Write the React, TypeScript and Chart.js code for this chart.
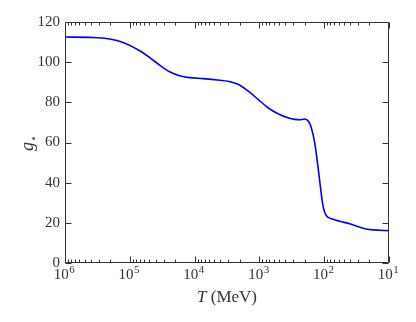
import React, { useEffect, useRef } from "react";
import { Chart, registerables } from "chart.js";

Chart.register(...registerables);

const temperatures = [1e6, 3.7e5, 2.04e5, 1.27e5, 7.03e4, 4.93e4, 3.46e4, 2.43e4, 1.7e4, 1.19e4, 7.41e3, 4.1e3, 3.05e3, 2.14e3, 1.5e3, 1.05e3, 736, 516, 362, 285, 240, 200, 172, 158, 140, 125, 113, 104, 92.5, 73.1, 57.6, 40.4, 25.2, 17.7, 10];
const gStar = [112.5, 112.3, 111.5, 109.8, 105.7, 102.3, 98.5, 95.2, 93.2, 92.3, 91.8, 91.0, 90.5, 89.0, 85.7, 81.5, 77.3, 74.3, 72.3, 71.5, 71.3, 71.7, 70.2, 67.3, 59.8, 48.2, 36.5, 28.2, 23.5, 21.8, 20.8, 19.5, 17.3, 16.5, 16.1];
const xTickValues = [1e6, 1e5, 1e4, 1e3, 1e2, 1e1];
const xTickBase = "10";
const xTickExponents = ["6", "5", "4", "3", "2", "1"];
const yTickValues = [0, 20, 40, 60, 80, 100, 120];
const xTitleItalic = "T";
const xTitleRest = " (MeV)";
const yTitleMain = "g";
const yTitleSub = "⋆";

const FONT = '"Liberation Serif", "DejaVu Serif", serif';
const AXIS = "#333333";

const framePlugin = {
  id: "frame",
  afterDraw(chart: any) {
    const { ctx, chartArea, scales } = chart;
    const { left, right, top, bottom } = chartArea;
    const xs = scales.x;
    const ys = scales.y;
    const L = Math.round(left) + 0.5;
    const R = Math.round(right) - 0.5;
    const T = Math.round(top) + 0.5;
    const B = Math.round(bottom) - 0.5;
    ctx.save();
    ctx.strokeStyle = AXIS;
    ctx.lineWidth = 1;
    ctx.beginPath();
    ctx.rect(L, T, R - L, B - T);
    for (let k = 1; k <= 6; k++) {
      const base = Math.pow(10, k);
      const px = Math.round(xs.getPixelForValue(base)) + 0.5;
      ctx.moveTo(px, B); ctx.lineTo(px, B - 6);
      ctx.moveTo(px, T); ctx.lineTo(px, T + 6);
      if (k < 6) {
        for (let m = 2; m <= 9; m++) {
          const mp = Math.round(xs.getPixelForValue(m * base)) + 0.5;
          ctx.moveTo(mp, B); ctx.lineTo(mp, B - 3);
          ctx.moveTo(mp, T); ctx.lineTo(mp, T + 3);
        }
      }
    }
    for (const v of yTickValues) {
      const py = Math.round(ys.getPixelForValue(v)) + 0.5;
      ctx.moveTo(L, py); ctx.lineTo(L + 6, py);
      ctx.moveTo(R, py); ctx.lineTo(R - 6, py);
    }
    ctx.stroke();

    ctx.fillStyle = AXIS;
    ctx.textAlign = "left";
    ctx.textBaseline = "alphabetic";

    // x tick labels: 10 with raised exponent
    const baseFont = `15px ${FONT}`;
    const expFont = `11px ${FONT}`;
    xTickValues.forEach((v, i) => {
      const px = xs.getPixelForValue(v);
      ctx.font = baseFont;
      const bw = ctx.measureText(xTickBase).width;
      ctx.font = expFont;
      const ew = ctx.measureText(xTickExponents[i]).width;
      const sx = px - (bw + ew) / 2 - 1;
      ctx.font = baseFont;
      ctx.fillText(xTickBase, sx, 279);
      ctx.font = expFont;
      ctx.fillText(xTickExponents[i], sx + bw + 0.5, 273);
    });

    // x title
    ctx.textBaseline = "middle";
    const italicFont = `italic 17px ${FONT}`;
    const normalFont = `17px ${FONT}`;
    ctx.font = italicFont;
    const w1 = ctx.measureText(xTitleItalic).width;
    ctx.font = normalFont;
    const w2 = ctx.measureText(xTitleRest).width;
    const cx = (left + right) / 2;
    const startX = cx - (w1 + w2) / 2;
    ctx.font = italicFont;
    ctx.fillText(xTitleItalic, startX, 298);
    ctx.font = normalFont;
    ctx.fillText(xTitleRest, startX + w1, 298);

    // y title (rotated)
    ctx.save();
    ctx.translate(30, 143);
    ctx.rotate(-Math.PI / 2);
    ctx.textBaseline = "alphabetic";
    ctx.font = `italic 18px ${FONT}`;
    const gw = ctx.measureText(yTitleMain).width;
    ctx.font = `11px "DejaVu Sans", sans-serif`;
    const sw = ctx.measureText(yTitleSub).width;
    const sx = -(gw + sw) / 2;
    ctx.font = `italic 18px ${FONT}`;
    ctx.fillText(yTitleMain, sx, 3);
    ctx.font = `11px "DejaVu Sans", sans-serif`;
    ctx.fillText(yTitleSub, sx + gw, 7);
    ctx.restore();

    ctx.restore();
  },
};

export default function App() {
  const canvasRef = useRef<HTMLCanvasElement | null>(null);

  useEffect(() => {
    const canvas = canvasRef.current;
    if (!canvas) return;
    const points = temperatures.map((t, i) => ({ x: t, y: gStar[i] }));
    const chart = new Chart(canvas, {
      type: "scatter",
      data: {
        datasets: [
          {
            data: points,
            showLine: true,
            borderColor: "#0000ff",
            borderWidth: 1.6,
            pointRadius: 0,
            cubicInterpolationMode: "monotone",
            fill: false,
          } as any,
        ],
      },
      options: {
        responsive: false,
        animation: false,
        events: [],
        layout: { padding: { left: 0, right: 27, top: 22, bottom: 0 } },
        plugins: { legend: { display: false }, tooltip: { enabled: false } },
        scales: {
          x: {
            type: "logarithmic",
            reverse: true,
            min: 10,
            max: 1e6,
            afterFit: (s: any) => { s.height = 59; },
            afterBuildTicks: (s: any) => { s.ticks = xTickValues.map((v) => ({ value: v })); },
            grid: { display: false, drawTicks: false },
            border: { display: false },
            ticks: { display: false },
          },
          y: {
            min: 0,
            max: 120,
            afterFit: (s: any) => { s.width = 65; },
            afterBuildTicks: (s: any) => { s.ticks = yTickValues.map((v) => ({ value: v })); },
            grid: { display: false, drawTicks: false },
            border: { display: false },
            ticks: {
              padding: 5,
              color: AXIS,
              font: { family: FONT, size: 15 },
            },
          },
        },
      },
      plugins: [framePlugin],
    });
    return () => chart.destroy();
  }, []);

  return (
    <div style={{ position: "fixed", left: 0, top: 0, width: 416, height: 322, background: "#fff" }}>
      <canvas ref={canvasRef} width={416} height={322} style={{ display: "block" }} />
    </div>
  );
}
